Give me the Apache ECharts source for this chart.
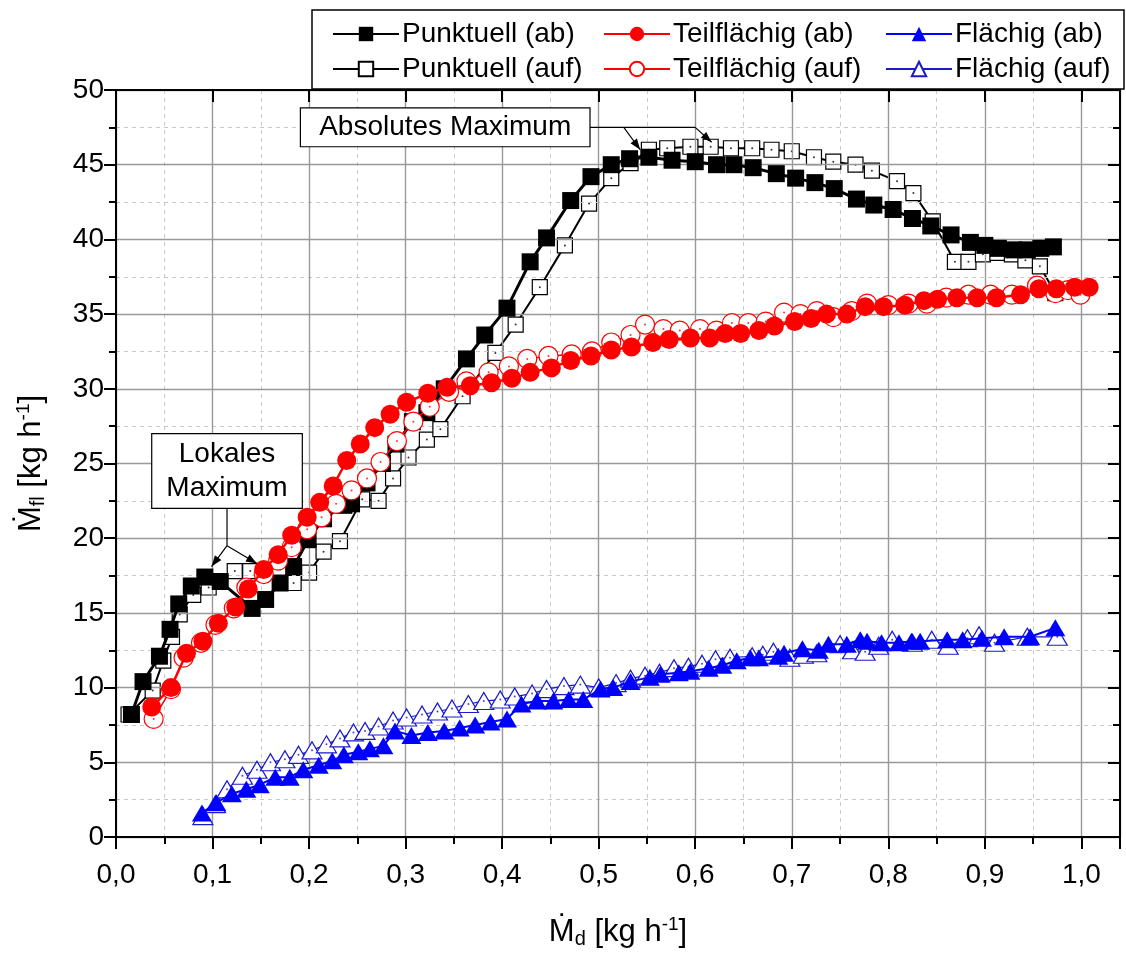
<!DOCTYPE html>
<html>
<head>
<meta charset="utf-8">
<script src="https://cdn.jsdelivr.net/npm/echarts@6/dist/echarts.min.js"></script>
<style>
html, body { margin: 0; padding: 0; background: #fff; }
#chart { width: 1126px; height: 954px; }
</style>
</head>
<body>
<div id="chart"></div>
<script>
/*global echarts*/
// values: [Md, Mfl]
const punktuellAb = [[0.016, 8.2], [0.028, 10.4], [0.045, 12.1], [0.056, 13.9], [0.065, 15.6], [0.078, 16.8], [0.092, 17.4], [0.108, 17.1], [0.141, 15.3], [0.155, 15.9], [0.170, 17.0], [0.184, 18.1], [0.199, 19.9], [0.215, 21.3], [0.236, 22.2], [0.244, 22.3], [0.260, 23.7], [0.276, 25.0], [0.290, 26.3], [0.307, 27.8], [0.322, 28.4], [0.340, 30.0], [0.363, 32.0], [0.382, 33.6], [0.405, 35.4], [0.429, 38.5], [0.446, 40.1], [0.471, 42.6], [0.492, 44.2], [0.513, 45.0], [0.532, 45.4], [0.552, 45.5], [0.576, 45.3], [0.600, 45.2], [0.622, 45.0], [0.640, 45.0], [0.660, 44.8], [0.684, 44.4], [0.704, 44.1], [0.724, 43.8], [0.744, 43.4], [0.767, 42.7], [0.785, 42.3], [0.805, 42.0], [0.825, 41.4], [0.844, 40.9], [0.865, 40.3], [0.885, 39.8], [0.900, 39.6], [0.914, 39.4], [0.930, 39.3], [0.944, 39.3], [0.958, 39.4], [0.971, 39.5]];
const punktuellAuf = [[0.013, 8.2], [0.038, 9.8], [0.049, 11.8], [0.058, 13.4], [0.066, 14.9], [0.080, 16.2], [0.096, 16.7], [0.123, 17.8], [0.139, 17.8], [0.170, 17.9], [0.184, 17.0], [0.200, 17.7], [0.215, 19.1], [0.232, 19.8], [0.255, 22.6], [0.272, 22.5], [0.287, 24.0], [0.303, 25.4], [0.322, 26.6], [0.336, 27.3], [0.359, 29.5], [0.393, 32.4], [0.414, 34.3], [0.439, 36.8], [0.465, 39.6], [0.490, 42.4], [0.513, 44.1], [0.533, 45.1], [0.552, 46.0], [0.571, 46.1], [0.595, 46.2], [0.616, 46.2], [0.637, 46.1], [0.659, 46.1], [0.679, 46.0], [0.700, 45.9], [0.723, 45.5], [0.743, 45.2], [0.766, 45.0], [0.783, 44.6], [0.809, 43.9], [0.826, 43.1], [0.846, 41.2], [0.869, 38.5], [0.883, 38.5], [0.898, 39.0], [0.913, 39.1], [0.928, 39.0], [0.942, 38.6], [0.957, 38.2], [0.973, 36.4]];
const teilAb = [[0.037, 8.7], [0.057, 10.0], [0.073, 12.3], [0.090, 13.1], [0.106, 14.3], [0.124, 15.4], [0.137, 16.6], [0.153, 17.9], [0.168, 18.9], [0.182, 20.2], [0.198, 21.4], [0.211, 22.4], [0.225, 23.5], [0.239, 25.2], [0.253, 26.3], [0.268, 27.4], [0.284, 28.3], [0.301, 29.1], [0.323, 29.7], [0.343, 30.1], [0.367, 30.2], [0.389, 30.4], [0.410, 30.7], [0.429, 31.1], [0.451, 31.4], [0.471, 31.9], [0.492, 32.2], [0.513, 32.6], [0.534, 32.8], [0.556, 33.1], [0.573, 33.3], [0.595, 33.4], [0.615, 33.4], [0.631, 33.7], [0.647, 33.7], [0.666, 33.9], [0.682, 34.2], [0.703, 34.5], [0.720, 34.7], [0.736, 35.0], [0.757, 35.0], [0.776, 35.5], [0.795, 35.5], [0.817, 35.6], [0.837, 35.9], [0.851, 36.0], [0.871, 36.1], [0.892, 36.1], [0.912, 36.1], [0.937, 36.3], [0.956, 36.7], [0.974, 36.7], [0.993, 36.8], [1.008, 36.8]];
const teilAuf = [[0.039, 7.9], [0.057, 9.9], [0.070, 12.0], [0.088, 13.0], [0.103, 14.2], [0.122, 15.3], [0.135, 16.7], [0.153, 17.6], [0.168, 18.5], [0.182, 19.4], [0.198, 20.6], [0.213, 21.4], [0.228, 22.3], [0.244, 23.2], [0.260, 24.0], [0.274, 25.1], [0.291, 26.5], [0.308, 27.8], [0.325, 28.8], [0.345, 29.8], [0.363, 30.5], [0.386, 31.1], [0.407, 31.5], [0.426, 32.0], [0.448, 32.2], [0.472, 32.3], [0.493, 32.5], [0.513, 33.1], [0.533, 33.6], [0.548, 34.3], [0.567, 34.0], [0.584, 33.9], [0.605, 34.0], [0.622, 33.9], [0.638, 34.4], [0.655, 34.4], [0.673, 34.5], [0.692, 35.1], [0.709, 35.0], [0.726, 35.2], [0.743, 34.8], [0.762, 35.2], [0.778, 35.7], [0.800, 35.6], [0.821, 35.7], [0.840, 35.7], [0.860, 36.1], [0.883, 36.3], [0.906, 36.3], [0.928, 36.3], [0.954, 36.9], [0.973, 36.4], [0.986, 36.6], [0.999, 36.3]];
const flaechigAb = [[0.089, 1.6], [0.104, 2.3], [0.120, 2.9], [0.135, 3.2], [0.149, 3.5], [0.165, 4.0], [0.180, 4.0], [0.194, 4.5], [0.210, 4.8], [0.224, 5.1], [0.236, 5.5], [0.251, 5.7], [0.263, 5.9], [0.277, 6.1], [0.289, 7.1], [0.306, 6.8], [0.323, 7.0], [0.340, 7.1], [0.356, 7.3], [0.372, 7.5], [0.388, 7.7], [0.405, 7.9], [0.420, 8.9], [0.436, 9.1], [0.453, 9.1], [0.469, 9.2], [0.484, 9.2], [0.502, 9.9], [0.515, 10.0], [0.533, 10.4], [0.553, 10.7], [0.564, 10.9], [0.583, 11.0], [0.595, 11.1], [0.614, 11.3], [0.628, 11.5], [0.643, 11.8], [0.657, 12.0], [0.666, 12.0], [0.686, 12.1], [0.692, 12.3], [0.711, 12.6], [0.728, 12.5], [0.738, 12.9], [0.757, 12.9], [0.771, 13.2], [0.778, 13.1], [0.793, 13.0], [0.811, 13.0], [0.824, 13.1], [0.833, 13.1], [0.861, 13.2], [0.877, 13.2], [0.897, 13.3], [0.920, 13.4], [0.947, 13.4], [0.973, 14.0]];
const flaechigAuf = [[0.090, 1.4], [0.103, 2.2], [0.115, 3.2], [0.131, 4.1], [0.146, 4.5], [0.160, 5.0], [0.175, 5.2], [0.189, 5.5], [0.203, 5.8], [0.218, 6.2], [0.232, 6.6], [0.246, 7.0], [0.258, 7.1], [0.272, 7.4], [0.287, 7.8], [0.301, 8.0], [0.317, 8.2], [0.333, 8.4], [0.348, 8.6], [0.365, 8.9], [0.381, 9.1], [0.398, 9.2], [0.413, 9.4], [0.431, 9.6], [0.446, 9.9], [0.464, 10.1], [0.481, 10.2], [0.500, 10.0], [0.518, 10.3], [0.533, 10.6], [0.548, 10.8], [0.563, 11.0], [0.578, 11.3], [0.593, 11.4], [0.607, 11.6], [0.621, 11.9], [0.636, 12.0], [0.659, 12.1], [0.670, 12.2], [0.681, 12.4], [0.698, 12.0], [0.712, 12.2], [0.726, 12.3], [0.750, 12.9], [0.763, 12.5], [0.776, 12.4], [0.790, 12.8], [0.804, 13.2], [0.825, 13.0], [0.845, 13.2], [0.862, 12.8], [0.882, 13.3], [0.894, 13.5], [0.910, 13.0], [0.944, 13.4], [0.975, 13.4]];

const xTickLabels = ['0,0', '0,1', '0,2', '0,3', '0,4', '0,5', '0,6', '0,7', '0,8', '0,9', '1,0'];
const yTickLabels = ['0', '5', '10', '15', '20', '25', '30', '35', '40', '45', '50'];

// annotation anchors in data coordinates
const lokalesBox = [[0.037, 27.0], [0.193, 22.0]];
const lokalesStem = [[0.115, 22.0], [0.115, 19.5]];
const lokalesTips = [[0.099, 18.1], [0.146, 18.3]];
const absolutesBox = [[0.191, 48.8], [0.491, 46.2]];
const absolutesLead = [[0.491, 47.5], [0.600, 47.5]];
const absolutesArrows = [[[0.526, 47.5], [0.543, 46.0]], [[0.600, 47.5], [0.617, 46.5]]];

const FONT = "'Liberation Sans', Arial, sans-serif";
const X_MAX = 1.04;

const xLabel = (v) => {
    const idx = Math.round(v * 10);
    return Math.abs(v * 10 - idx) < 1e-6 && xTickLabels[idx] !== undefined ? xTickLabels[idx] : '';
};
const yLabel = (v) => {
    const idx = Math.round(v / 5);
    return yTickLabels[idx] !== undefined ? yTickLabels[idx] : '';
};

const frameLine = { show: true, onZero: false, lineStyle: { color: '#000', width: 2 } };

const titleStyle = () => ({
    fontSize: 31, fontFamily: FONT, color: '#000',
    rich: {
        m: { fontSize: 31, fontFamily: FONT },
        sub: { fontSize: 20, fontFamily: FONT, verticalAlign: 'bottom', padding: [14, 0, 0, 0] },
        sup: { fontSize: 19, fontFamily: FONT, verticalAlign: 'top', padding: [0, 0, 14, 0] }
    }
});

const getXAxes = () => {
    const base = { type: 'value', min: 0, max: X_MAX, gridIndex: 0 };
    return [
        {
            ...base, position: 'bottom', interval: 0.1, z: 3,
            axisLine: frameLine,
            axisTick: { show: true, inside: false, length: 12, lineStyle: { color: '#000', width: 2 } },
            axisLabel: { show: true, fontSize: 28, fontFamily: FONT, color: '#000', margin: 24, formatter: xLabel },
            splitLine: { show: true, lineStyle: { color: '#999', width: 1.4 } },
            name: '{m|Ṁ}{sub|d} [kg h{sup|-1}]',
            nameLocation: 'middle',
            nameGap: 78,
            nameTextStyle: titleStyle()
        },
        {
            ...base, position: 'bottom', interval: 0.05, z: 1,
            axisLine: { show: false },
            axisTick: { show: true, inside: false, length: 7, lineStyle: { color: '#000', width: 2 } },
            axisLabel: { show: false },
            splitLine: { show: true, lineStyle: { color: '#c8c8c8', width: 1, type: [4, 4] } }
        },
        {
            ...base, position: 'top', interval: 0.1, z: 3,
            axisLine: frameLine,
            axisTick: { show: true, inside: true, length: 12, lineStyle: { color: '#000', width: 2 } },
            axisLabel: { show: false },
            splitLine: { show: false }
        },
        {
            ...base, position: 'top', interval: 0.05, z: 3,
            axisLine: { show: false },
            axisTick: { show: true, inside: true, length: 7, lineStyle: { color: '#000', width: 2 } },
            axisLabel: { show: false },
            splitLine: { show: false }
        }
    ];
};

const getYAxes = () => {
    const base = { type: 'value', min: 0, max: 50, interval: 5, gridIndex: 0 };
    return [
        {
            ...base, position: 'left', z: 3,
            axisLine: frameLine,
            axisTick: { show: true, inside: false, length: 12, lineStyle: { color: '#000', width: 2 } },
            minorTick: { show: true, splitNumber: 2, length: 7, lineStyle: { color: '#000', width: 2 } },
            axisLabel: { show: true, fontSize: 28, fontFamily: FONT, color: '#000', margin: 12, formatter: yLabel },
            splitLine: { show: true, lineStyle: { color: '#999', width: 1.4 } },
            minorSplitLine: { show: true, lineStyle: { color: '#c8c8c8', width: 1, type: [4, 4] } },
            name: '{m|Ṁ}{sub|fl} [kg h{sup|-1}]',
            nameLocation: 'middle',
            nameRotate: 90,
            nameGap: 68,
            nameTextStyle: titleStyle()
        },
        {
            ...base, position: 'right', z: 3,
            axisLine: frameLine,
            axisTick: { show: true, inside: true, length: 12, lineStyle: { color: '#000', width: 2 } },
            minorTick: { show: true, splitNumber: 2, length: 7, lineStyle: { color: '#000', width: 2 } },
            axisLabel: { show: false },
            splitLine: { show: false }
        }
    ];
};

const makeSeries = (name, data, s) => ({
    name,
    type: 'line',
    data,
    xAxisIndex: 0,
    yAxisIndex: 0,
    symbol: s.symbol,
    symbolSize: s.size,
    showSymbol: true,
    showAllSymbol: true,
    z: s.z,
    animation: false,
    lineStyle: { color: s.color, width: s.lineWidth },
    itemStyle: { color: s.fill, borderColor: s.color, borderWidth: s.border, opacity: 1 },
    emphasis: { disabled: true }
});

// small centre dot that the open symbols carry
const makeDots = (data, color, z) => ({
    type: 'scatter',
    data,
    symbol: 'circle',
    symbolSize: 2,
    z,
    silent: true,
    animation: false,
    itemStyle: { color },
    emphasis: { disabled: true }
});

const getSeries = () => [
    makeSeries('Punktuell (auf)', punktuellAuf, { symbol: 'rect', size: 15, color: '#000', fill: '#fff', border: 1.2, lineWidth: 2, z: 2 }),
    makeDots(punktuellAuf, '#000', 2),
    makeSeries('Punktuell (ab)', punktuellAb, { symbol: 'rect', size: 17, color: '#000', fill: '#000', border: 0, lineWidth: 3, z: 3 }),
    makeSeries('Teilflächig (auf)', teilAuf, { symbol: 'circle', size: 19, color: '#ff0000', fill: '#fff', border: 1.2, lineWidth: 1.5, z: 4 }),
    makeDots(teilAuf, '#ff0000', 4),
    makeSeries('Teilflächig (ab)', teilAb, { symbol: 'circle', size: 19, color: '#ff0000', fill: '#ff0000', border: 0, lineWidth: 2.5, z: 5 }),
    makeSeries('Flächig (auf)', flaechigAuf, { symbol: 'triangle', size: [20, 17], color: '#1a1acc', fill: '#fff', border: 1.2, lineWidth: 1.2, z: 6 }),
    makeDots(flaechigAuf, '#1a1acc', 6),
    makeSeries('Flächig (ab)', flaechigAb, { symbol: 'triangle', size: [20, 17], color: '#0000ff', fill: '#0000ff', border: 0, lineWidth: 2, z: 7 })
];

const legendCol = (left, names) => ({
    orient: 'vertical',
    left,
    top: 15,
    itemGap: 7,
    itemWidth: 66,
    itemHeight: 18,
    selectedMode: false,
    data: names,
    textStyle: { fontSize: 28, fontFamily: FONT, color: '#000', padding: [0, 0, 0, -2] }
});

const option = {
    backgroundColor: '#fff',
    animation: false,
    grid: [{ left: 116, right: 6, top: 90, bottom: 116, containLabel: false }],
    xAxis: getXAxes(),
    yAxis: getYAxes(),
    legend: [
        legendCol(327, ['Punktuell (ab)', 'Punktuell (auf)']),
        legendCol(598, ['Teilflächig (ab)', 'Teilflächig (auf)']),
        legendCol(880, ['Flächig (ab)', 'Flächig (auf)'])
    ],
    series: getSeries()
};

const chart = echarts.init(document.getElementById('chart'), null, { renderer: 'canvas' });
chart.setOption(option);

// annotation boxes and arrows, placed from data coordinates
const px = (p) => chart.convertToPixel({ seriesIndex: 0 }, p);

const arrowHead = (a, b, len, half) => {
    const dx = b[0] - a[0];
    const dy = b[1] - a[1];
    const d = Math.hypot(dx, dy);
    const ux = dx / d;
    const uy = dy / d;
    const bx = b[0] - ux * len;
    const by = b[1] - uy * len;
    return {
        type: 'polygon',
        shape: { points: [[b[0], b[1]], [bx - uy * half, by + ux * half], [bx + uy * half, by - ux * half]] },
        style: { fill: '#000' },
        z: 20
    };
};

const lineEl = (a, b) => ({
    type: 'line',
    shape: { x1: a[0], y1: a[1], x2: b[0], y2: b[1] },
    style: { stroke: '#000', lineWidth: 1.2 },
    z: 20
});

const arrowEls = (a, b) => {
    const pa = px(a);
    const pb = px(b);
    return [lineEl(pa, pb), arrowHead(pa, pb, 11, 4)];
};

const boxEl = (corners, text) => {
    const p0 = px(corners[0]);
    const p1 = px(corners[1]);
    return [
        {
            type: 'rect',
            shape: { x: p0[0], y: p0[1], width: p1[0] - p0[0], height: p1[1] - p0[1] },
            style: { fill: '#fff', stroke: '#000', lineWidth: 1.2 },
            z: 20
        },
        {
            type: 'text',
            x: (p0[0] + p1[0]) / 2,
            y: (p0[1] + p1[1]) / 2,
            style: { text, fontSize: 28, fontFamily: FONT, fill: '#000', align: 'center', verticalAlign: 'middle', lineHeight: 34 },
            z: 21
        }
    ];
};

const stemTop = lokalesStem[0];
const stemEnd = lokalesStem[1];
const graphics = [
    {
        type: 'rect',
        shape: { x: 312, y: 10, width: 812, height: 79 },
        style: { fill: '#fff', stroke: '#000', lineWidth: 1.5 },
        z: -1
    },
    ...boxEl(lokalesBox, 'Lokales\nMaximum'),
    lineEl(px(stemTop), px(stemEnd)),
    ...arrowEls(stemEnd, lokalesTips[0]),
    ...arrowEls(stemEnd, lokalesTips[1]),
    ...boxEl(absolutesBox, 'Absolutes Maximum'),
    lineEl(px(absolutesLead[0]), px(absolutesLead[1])),
    ...arrowEls(absolutesArrows[0][0], absolutesArrows[0][1]),
    ...arrowEls(absolutesArrows[1][0], absolutesArrows[1][1])
];

chart.setOption({ graphic: graphics });
</script>
</body>
</html>
